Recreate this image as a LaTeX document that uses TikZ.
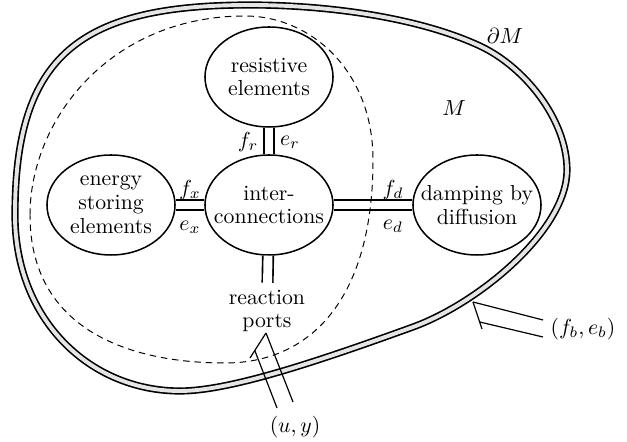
\documentclass[tikz,border=0pt]{standalone}
\usetikzlibrary{shapes.geometric,calc}
\tikzset{
  elem/.style={ellipse, draw, line width=0.7pt, minimum width=58.9pt, minimum height=46pt, inner sep=0pt},
  txt/.style={align=center, font=\fontsize{10}{11}\selectfont, inner sep=0pt},
  lbl/.style={inner sep=0pt, font=\fontsize{10}{11}\selectfont},
  conn/.style={line width=0.75pt, double=white, double distance=4.1pt},
  portline/.style={line width=0.55pt},
  band/.style={line width=0.75pt, double=black!10, double distance=1.8pt},
  bound/.style={line width=0.45pt, dash pattern=on 3pt off 2.2pt}
}
\begin{document}
\begin{tikzpicture}[x=0.46pt,y=-0.46pt]
\useasboundingbox (0,0) rectangle (627,442);

% outer domain boundary
\draw[band] (15,215) .. controls (15,55) and (80,5) .. (250,5)
  .. controls (330,5) and (420,18) .. (480,46)
  .. controls (525,67) and (567,120) .. (567,170)
  .. controls (567,230) and (479,303) .. (413,327)
  .. controls (319,361) and (230,391) .. (180,391)
  .. controls (90,391) and (15,320) .. cycle;

% elements
\node[elem] (res) at (269,77) {};
\node[txt] (resT) at (res) {resistive\\elements};
\node[elem] (ene) at (111,205) {};
\node[txt] (eneT) at (ene) {energy\\storing\\elements};
\node[elem] (int) at (269,205) {};
\node[txt] (intT) at (int) {inter-\\connections};
\node[elem] (dam) at (477,205) {};
\node[txt] (damT) at (dam) {damping by\\diffusion};
\node[txt, inner sep=3pt] (rp) at (267,311) {reaction\\ports};

% connections
\draw[conn] (res) -- (int);
\draw[conn] (ene) -- (int);
\draw[conn] (int) -- (dam);
\draw[conn] (int) -- (rp);

% dashed boundary
\draw[bound] (30,215) .. controls (30,120) and (110,16) .. (245,16)
  .. controls (310,16) and (373,70) .. (373,160)
  .. controls (373,300) and (310,363) .. (225,363)
  .. controls (130,363) and (30,330) .. cycle;

% port labels
\node[lbl] (lfr) at (248,142) {$f_r$};
\node[lbl] (ler) at (290,142) {$e_r$};
\node[lbl] (lfx) at (190,190) {$f_x$};
\node[lbl] (lex) at (190,227) {$e_x$};
\node[lbl] (lfd) at (393,190) {$f_d$};
\node[lbl] (led) at (393,226) {$e_d$};
\node[lbl] (ldM) at (505,36) {$\partial M$};
\node[lbl] (lM) at (454,108) {$M$};
\node[lbl] (luy) at (295,427) {$(u,y)$};
\node[lbl] (lfb) at (583,329) {$(f_b,e_b)$};

% reaction port symbol
\coordinate (rpA) at (266,333);
\coordinate (rpS) at (250,358);
\coordinate (rpM) at ($(rpA)!0.7!(rpS)$);
\coordinate (rpE1) at (293,402);
\coordinate (rpE2) at (277,408);
\draw[portline] (rpA) -- (rpE1);
\draw[portline] (rpA) -- (rpS);
\draw[portline] (rpM) -- (rpE2);

% boundary port symbol
\coordinate (bA) at (473,302);
\coordinate (bS) at (482,329);
\coordinate (bM) at ($(bA)!0.74!(bS)$);
\coordinate (bE1) at (543,320);
\coordinate (bE2) at (543,337);
\draw[portline] (bA) -- (bE1);
\draw[portline] (bA) -- (bS);
\draw[portline] (bM) -- (bE2);
\end{tikzpicture}
\end{document}
